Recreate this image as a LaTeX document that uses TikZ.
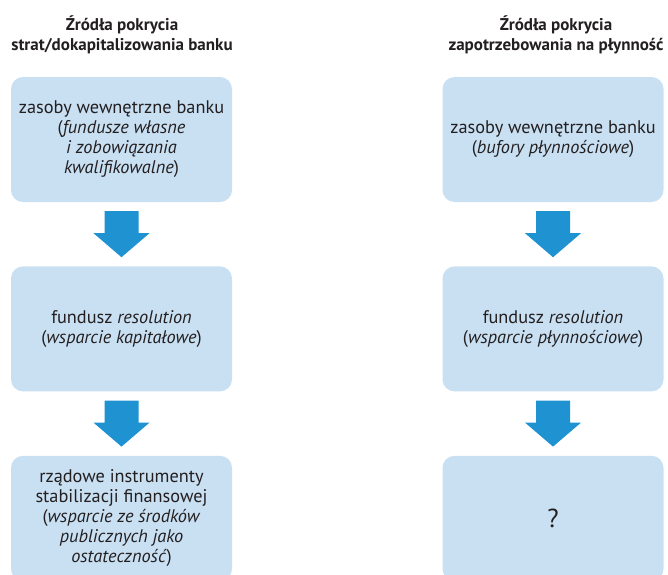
\documentclass[tikz,border=0pt]{standalone}
\usepackage{fontspec}
\setmainfont{PT Sans}
\usetikzlibrary{positioning,calc}
\definecolor{boxfill}{RGB}{201,224,243}
\definecolor{flowblue}{RGB}{31,146,209}
\definecolor{ink}{RGB}{35,31,32}

\begin{document}
\begin{tikzpicture}[
    x=1pt, y=1pt,
    block/.style={fill=boxfill, rounded corners=12pt, minimum width=221pt, minimum height=125pt, inner sep=0pt, align=center, text=ink, font=\fontsize{18.3}{20}\selectfont},
    title/.style={align=center, text=ink, font=\bfseries\fontsize{17}{20}\selectfont},
    flow/.style={fill=flowblue},
    node distance=64pt
]
    \useasboundingbox (0,0) rectangle (668,-574);
    \clip (0,0) rectangle (668,-574);

    % Losses / recapitalisation
    \node[title] (lossT) at (122,-35) {Źródła pokrycia\\strat/dokapitalizowania banku};
    \node[block] (lossA) at (121.5,-139.5) {zasoby wewnętrzne banku\\(\textit{fundusze własne}\\\textit{i zobowiązania}\\\textit{kwalifikowalne})};
    \node[block, below=of lossA] (lossB) {fundusz \textit{resolution}\\(\textit{wsparcie kapitałowe})};
    \node[block, below=of lossB] (lossC) {rządowe instrumenty\\stabilizacji finansowej\\(\textit{wsparcie ze środków}\\\textit{publicznych jako}\\\textit{ostateczność})};

    % Liquidity needs
    \node[title] (liqT) at (556,-35) {Źródła pokrycia\\zapotrzebowania na płynność};
    \node[block] (liqA) at (553,-139.5) {zasoby wewnętrzne banku\\(\textit{bufory płynnościowe})};
    \node[block, below=of liqA] (liqB) {fundusz \textit{resolution}\\(\textit{wsparcie płynnościowe})};
    \node[block, below=of liqB, font=\fontsize{26}{30}\selectfont] (liqC) {?};

    % Block arrows
    \foreach \a/\b in {lossA/lossB, lossB/lossC, liqA/liqB, liqB/liqC}
        \fill[flow] ($(\a.south)+(-17,-9)$) -- ($(\a.south)+(17,-9)$) -- ($(\a.south)+(17,-31)$)
            -- ($(\a.south)+(28,-31)$) -- ($(\b.north)+(0,9)$) -- ($(\a.south)+(-28,-31)$)
            -- ($(\a.south)+(-17,-31)$) -- cycle;
\end{tikzpicture}
\end{document}
